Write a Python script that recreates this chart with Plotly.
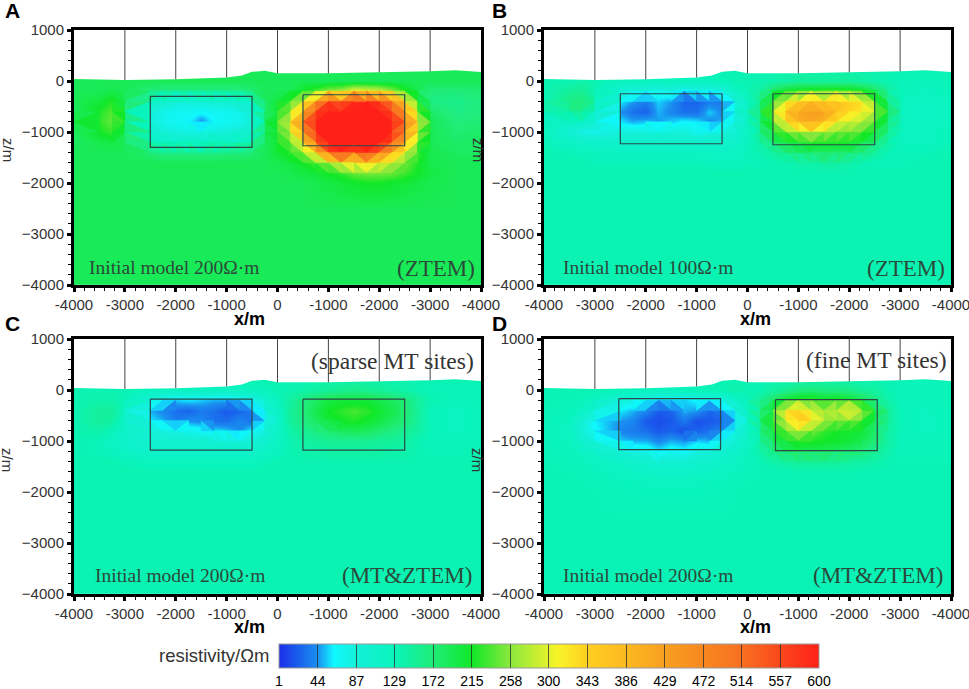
import plotly.graph_objects as go
from plotly.colors import sample_colorscale

W, H = 969, 689
FIG_W = 985  # a little wider than the window so the last tick label of B and D is kept

# grid nodes of the resistivity sections
x_nodes = [-4000, -3500, -3250, -3000, -2500, -2250, -2000, -1750, -1500, -1250, -1000, -750, -500, -250, 0, 250, 500,
           750, 1000, 1250, 1500, 1750, 2000, 2250, 2500, 2750, 3000, 3500, 4000]
z_nodes = [250, 0, -200, -400, -600, -800, -1000, -1200, -1400, -1600, -1800, -2000, -2500, -4000]

# resistivity, one row per z_nodes entry
rho_a = [
    [190] * 29,
    [190] * 29,
    [190, 190, 195, 190, 170, 165, 165, 165, 165, 165, 165, 165, 175, 190, 185, 190, 215, 235, 260, 270, 310, 300, 290, 260, 220, 195, 170, 170, 175],
    [190, 205, 225, 195, 110, 95, 85, 85, 85, 90, 90, 100, 115, 185, 205, 240, 290, 420, 560, 520, 590, 600, 560, 500, 350, 230, 165, 160, 170],
    [185, 220, 240, 200, 85, 75, 70, 70, 65, 70, 70, 75, 90, 180, 215, 265, 400, 560, 600, 600, 600, 600, 600, 560, 430, 270, 180, 165, 170],
    [185, 225, 245, 200, 85, 75, 70, 65, 40, 65, 70, 75, 90, 180, 225, 290, 470, 600, 600, 600, 600, 600, 600, 600, 500, 300, 190, 170, 175],
    [185, 215, 230, 195, 100, 85, 80, 80, 80, 85, 85, 90, 100, 180, 225, 280, 440, 600, 600, 600, 600, 600, 600, 600, 480, 290, 190, 175, 180],
    [185, 195, 200, 190, 130, 120, 115, 115, 115, 120, 120, 125, 135, 185, 215, 250, 330, 520, 600, 600, 600, 600, 600, 560, 400, 260, 190, 180, 185],
    [190, 190, 190, 190, 175, 165, 165, 165, 165, 165, 170, 170, 175, 190, 205, 225, 265, 350, 560, 600, 560, 600, 520, 400, 300, 230, 195, 185, 185],
    [190] * 14 + [195, 200, 215, 235, 270, 320, 330, 340, 320, 290, 250, 220, 195, 190, 190],
    [190] * 14 + [190, 195, 200, 205, 215, 225, 245, 250, 250, 245, 230, 215, 200, 190, 190],
    [190] * 14 + [190, 190, 190, 195, 200, 205, 210, 215, 215, 210, 205, 200, 195, 190, 190],
    [190] * 29,
    [190] * 29,
]
rho_b = [
    [135] * 29,
    [135, 135, 140, 135, 125, 125, 125, 125, 125, 125, 125, 125, 130, 135, 135, 135, 140, 145, 150, 150, 150, 150, 150, 145, 140, 135, 130, 130, 130],
    [135, 150, 155, 135, 95, 85, 80, 70, 80, 60, 75, 65, 85, 120, 135, 145, 185, 215, 225, 230, 235, 235, 230, 220, 190, 150, 130, 125, 130],
    [130, 165, 170, 145, 60, 45, 35, 55, 45, 25, 25, 35, 35, 75, 125, 160, 240, 300, 340, 360, 350, 370, 345, 330, 250, 180, 125, 120, 125],
    [125, 160, 165, 130, 45, 30, 25, 50, 40, 30, 30, 55, 40, 80, 125, 170, 260, 360, 420, 430, 430, 370, 340, 320, 270, 190, 125, 115, 125],
    [125, 115, 110, 90, 60, 50, 55, 45, 55, 65, 60, 40, 50, 80, 120, 165, 250, 340, 400, 420, 400, 310, 290, 280, 240, 180, 125, 120, 125],
    [125, 95, 80, 75, 85, 85, 85, 90, 85, 85, 70, 80, 85, 95, 120, 155, 220, 250, 270, 280, 270, 260, 250, 240, 210, 165, 125, 125, 130],
    [130, 115, 105, 105] + [105] * 10 + [125, 145, 180, 200, 215, 215, 215, 215, 215, 200, 175, 145, 125, 125, 130],
    [135, 130, 130, 125, 120, 120, 120, 120, 120, 120, 120, 118, 115, 120, 130, 135, 145, 160, 175, 180, 185, 180, 180, 165, 145, 130, 130, 130, 135],
    [135, 135, 135, 130, 130, 130, 130, 130, 130, 130, 130, 128, 125, 125, 130, 130, 135, 135, 140, 140, 145, 145, 140, 135, 130, 130, 130, 135, 135],
    [135] * 29,
    [135] * 29,
    [135] * 29,
    [135] * 29,
]
rho_c = [
    [135] * 29,
    [135, 135, 135, 135, 125, 122, 120, 120, 120, 120, 120, 122, 125, 130, 135, 135, 140, 145, 150, 155, 160, 155, 150, 145, 140, 135, 130, 130, 130],
    [135, 140, 140, 130, 85, 70, 55, 60, 55, 50, 50, 60, 70, 100, 130, 145, 165, 185, 200, 205, 205, 205, 195, 185, 170, 150, 135, 130, 130],
    [135, 150, 150, 125, 50, 40, 30, 25, 35, 30, 20, 25, 35, 75, 120, 150, 170, 195, 215, 225, 235, 225, 210, 195, 175, 150, 130, 125, 130],
    [135, 150, 145, 120, 60, 50, 35, 45, 40, 30, 30, 40, 30, 65, 115, 150, 165, 185, 205, 215, 220, 210, 200, 185, 170, 150, 130, 125, 130],
    [135, 140, 130, 110, 90, 85, 80, 75, 70, 60, 55, 40, 65, 85, 115, 140, 155, 165, 175, 185, 190, 185, 175, 165, 155, 145, 130, 125, 130],
    [135, 130, 120, 105, 95, 95, 95, 95, 95, 95, 90, 90, 90, 100, 120, 135, 145, 150, 155, 155, 155, 155, 150, 150, 145, 135, 130, 130, 130],
    [135, 130, 125, 115] + [105] * 9 + [115, 125, 135, 140, 140, 145, 145, 145, 145, 145, 140, 140, 135, 130, 130, 135],
    [135, 135, 135, 130] + [125] * 9 + [130] + [135] * 15,
    [135] * 29,
    [135] * 29,
    [135] * 29,
    [135] * 29,
    [135] * 29,
]
rho_d = [
    [132] * 29,
    [132, 132, 135, 135, 130, 128, 125, 125, 125, 128, 130, 132, 135, 140, 135, 135, 145, 155, 165, 170, 165, 165, 160, 150, 145, 135, 130, 130, 130],
    [132, 132, 130, 120, 85, 80, 70, 60, 65, 55, 65, 70, 80, 115, 130, 150, 185, 215, 230, 235, 220, 225, 215, 195, 165, 140, 130, 130, 130],
    [132, 130, 120, 100, 60, 50, 40, 20, 25, 50, 45, 25, 35, 75, 115, 165, 215, 320, 340, 300, 270, 300, 320, 290, 195, 150, 130, 125, 130],
    [130, 125, 90, 60, 45, 40, 20, 15, 20, 35, 15, 20, 25, 55, 110, 165, 225, 300, 360, 330, 270, 250, 250, 240, 190, 150, 130, 125, 130],
    [130, 120, 90, 65, 40, 35, 30, 20, 25, 15, 25, 30, 40, 75, 110, 155, 215, 250, 280, 250, 225, 215, 210, 205, 180, 145, 130, 125, 130],
    [130, 125, 105, 80, 55, 50, 50, 40, 50, 45, 55, 50, 70, 90, 115, 145, 190, 215, 225, 220, 215, 210, 205, 195, 170, 145, 130, 130, 130],
    [130, 128, 120, 110, 90, 80, 75, 60, 70, 65, 80, 85, 95, 110, 125, 140, 165, 180, 190, 190, 190, 185, 180, 170, 155, 140, 130, 130, 130],
    [132, 130, 128, 122, 110, 105, 100, 95, 95, 95, 100, 105, 110, 120, 128, 132, 140, 145, 150, 150, 150, 150, 145, 145, 140, 135, 132, 132, 132],
    [132, 132, 130, 128, 120, 115, 112, 110, 110, 110, 112, 115, 120, 125, 130, 132, 132, 132, 135, 135, 135, 135, 135, 132, 132, 132, 132, 132, 132],
    [132, 132, 132, 130, 128, 126, 125, 122, 122, 122, 125, 126, 128, 130] + [132] * 15,
    [132, 132, 132, 132, 130, 129, 128, 128, 128, 128, 128, 129, 130, 132] + [132] * 15,
    [132] * 29,
    [132] * 29,
]

# ground surface and the MT site lines
surface_x = [-4000, -3000, -2000, -1000, -700, -500, -250, 0, 1000, 2000, 3000, 3500, 4000]
surface_z = [40, 20, 35, 70, 110, 180, 200, 150, 150, 170, 190, 210, 175]
site_x = [-3000, -2000, -1000, 0, 1000, 2000, 3000]
site_z = [20, 35, 70, 150, 150, 170, 190]

# target boxes per panel: x0, x1, z_top, z_bottom
boxes_a = [[-2500, -500, -300, -1300], [500, 2500, -270, -1270]]
boxes_b = [[-2500, -500, -250, -1230], [500, 2500, -250, -1250]]
boxes_c = [[-2500, -500, -180, -1180], [500, 2500, -180, -1180]]
boxes_d = [[-2530, -530, -170, -1170], [550, 2550, -190, -1190]]

x_ticks = [-4000, -3000, -2000, -1000, 0, 1000, 2000, 3000, 4000]
x_labels = ['-4000', '-3000', '-2000', '-1000', '0', '-1000', '-2000', '-3000', '-4000']
z_ticks = [1000, 0, -1000, -2000, -3000, -4000]

cbar_ticks = [1, 44, 87, 129, 172, 215, 258, 300, 343, 386, 429, 472, 514, 557, 600]
scale_vals = [1, 44, 62, 87, 129, 172, 215, 258, 310, 343, 429, 514, 600]
scale_cols = ['#1a2ee8', '#1a90f0', '#10f8ff', '#14f0d8', '#08f4bc', '#20ec78', '#10e828', '#8ce83c',
              '#f8f428', '#ffd020', '#f8a020', '#f87020', '#ff2018']
colorscale = [[(v - 1) / 599, c] for v, c in zip(scale_vals, scale_cols)]

DARK = '#333333'
SERIF = 'Liberation Serif'
SANS = 'Liberation Sans'


def px_x(p):
    return p / FIG_W


def px_y(p):
    return 1 - p / H


def facet_traces(rho, xref, yref):
    # split the cells with a strong contrast into flat triangles, like the inversion mesh
    groups = {}
    for j in range(2, 10):
        for i in range(len(x_nodes) - 1):
            a, b = rho[j][i], rho[j][i + 1]
            c, d = rho[j + 1][i + 1], rho[j + 1][i]
            if max(a, b, c, d) - min(a, b, c, d) < 40:
                continue
            p = [(x_nodes[i], z_nodes[j]), (x_nodes[i + 1], z_nodes[j]),
                 (x_nodes[i + 1], z_nodes[j + 1]), (x_nodes[i], z_nodes[j + 1])]
            # cut along the diagonal with the smaller jump, the outline gets rounder that way
            if abs(a - c) <= abs(b - d):
                tris = [((a, b, c), (p[0], p[1], p[2])), ((a, c, d), (p[0], p[2], p[3]))]
            else:
                tris = [((a, b, d), (p[0], p[1], p[3])), ((b, c, d), (p[1], p[2], p[3]))]
            for vals, pts in tris:
                level = round(sum(vals) / 3 / 5) * 5
                xs, zs = groups.setdefault(level, ([], []))
                for q in pts + (pts[0],):
                    xs.append(q[0])
                    zs.append(q[1])
                xs.append(None)
                zs.append(None)
    traces = []
    for level, (xs, zs) in groups.items():
        col = sample_colorscale(colorscale, [min(max((level - 1) / 599, 0), 1)])[0]
        traces.append(go.Scatter(x=xs, y=zs, mode='lines', fill='toself', fillcolor=col,
                                 line=dict(color=col, width=0.5), xaxis=xref, yaxis=yref,
                                 showlegend=False, hoverinfo='skip'))
    return traces


panels = [
    ('A', rho_a, boxes_a, 74, 30),
    ('B', rho_b, boxes_b, 544, 30),
    ('C', rho_c, boxes_c, 74, 339),
    ('D', rho_d, boxes_d, 544, 339),
]
PW, PH = 407, 255

fig = go.Figure()
layout_axes = {}
for i, (name, rho, boxes, left, top) in enumerate(panels):
    n = '' if i == 0 else str(i + 1)
    xref, yref = 'x' + n, 'y' + n
    fig.add_trace(go.Heatmap(x=x_nodes, y=z_nodes[::-1], z=rho[::-1], coloraxis='coloraxis',
                             zsmooth='best', xaxis=xref, yaxis=yref, hoverinfo='skip'))
    fig.add_traces(facet_traces(rho, xref, yref))
    # air above the surface
    fig.add_trace(go.Scatter(x=surface_x + [4000, -4000], y=surface_z + [1000, 1000], fill='toself',
                             fillcolor='white', mode='none', xaxis=xref, yaxis=yref, showlegend=False))
    lx, lz = [], []
    for sx, sz in zip(site_x, site_z):
        lx += [sx, sx, None]
        lz += [1000, sz, None]
    fig.add_trace(go.Scatter(x=lx, y=lz, mode='lines', line=dict(color='#444444', width=1),
                             xaxis=xref, yaxis=yref, showlegend=False))
    for x0, x1, z0, z1 in boxes:
        fig.add_trace(go.Scatter(x=[x0, x1, x1, x0, x0], y=[z0, z0, z1, z1, z0], mode='lines',
                                 line=dict(color='#2a4a4a', width=1.2), xaxis=xref, yaxis=yref,
                                 showlegend=False))
    layout_axes['xaxis' + n] = dict(
        domain=[px_x(left), px_x(left + PW)], range=[-4000, 4000], anchor=yref,
        tickvals=x_ticks, ticktext=x_labels, tickangle=0, ticks='outside', ticklen=4, tickwidth=3,
        tickcolor='black', tickfont=dict(family=SANS, size=15, color=DARK), showgrid=False, zeroline=False,
        showline=True, mirror=True, linecolor='black', linewidth=3,
        minor=dict(ticks='outside', ticklen=3, tickwidth=1, tickcolor='black', dtick=200, showgrid=False),
    )
    layout_axes['yaxis' + n] = dict(
        domain=[px_y(top + PH), px_y(top)], range=[-4000, 1000], anchor=xref,
        tickvals=z_ticks, ticks='outside', ticklen=4, tickwidth=3,
        tickcolor='black', tickfont=dict(family=SANS, size=15, color=DARK), showgrid=False, zeroline=False,
        showline=True, mirror=True, linecolor='black', linewidth=3,
        minor=dict(ticks='outside', ticklen=3, tickwidth=1, tickcolor='black', dtick=200, showgrid=False),
    )

annotations = []


def add_text(text, x, y, size, family=SANS, color='black', bold=False, angle=0):
    if bold:
        text = '<b>' + text + '</b>'
    annotations.append(dict(text=text, x=px_x(x), y=px_y(y), xref='paper', yref='paper', showarrow=False,
                            xanchor='center', yanchor='middle', textangle=angle,
                            font=dict(family=family, size=size, color=color)))


for name, x, y in [('A', 12, 11), ('B', 499, 11), ('C', 12, 323), ('D', 499, 323)]:
    add_text(name, x, y, 21, bold=True)
for x, y in [(250, 319), (755, 319), (250, 627), (755, 627)]:
    add_text('x/m', x, y, 18, bold=True)
for x, y in [(8, 150), (478, 150), (8, 460), (478, 460)]:
    add_text('z/m', x, y, 15, color=DARK, angle=90)

for text, x, y in [('Initial model 200Ω·m', 174, 267), ('Initial model 100Ω·m', 648, 267),
                   ('Initial model 200Ω·m', 180, 575), ('Initial model 200Ω·m', 648, 575)]:
    add_text(text, x, y, 19.5, family=SERIF, color='#2a4a3a')
for text, x, y in [('(ZTEM)', 436, 268), ('(ZTEM)', 906, 268), ('(MT&amp;ZTEM)', 407, 575), ('(MT&amp;ZTEM)', 878, 575)]:
    add_text(text, x, y, 23, family=SERIF, color='#2a4a3a')
add_text('(sparse MT sites)', 392, 361, 23.5, family=SERIF, color=DARK)
add_text('(fine MT sites)', 876, 360, 23.5, family=SERIF, color=DARK)
add_text('resistivity/Ωm', 214, 655, 18.5, color=DARK)

fig.update_layout(
    width=FIG_W, height=H, margin=dict(l=0, r=0, t=0, b=0, autoexpand=False), paper_bgcolor='white', plot_bgcolor='white',
    showlegend=False, annotations=annotations,
    coloraxis=dict(
        cmin=1, cmax=600, colorscale=colorscale,
        colorbar=dict(orientation='h', lenmode='pixels', len=540, thicknessmode='pixels', thickness=24,
                      x=px_x(279), xanchor='left', y=px_y(644), yanchor='top', xpad=0, ypad=0,
                      tickvals=cbar_ticks, ticks='inside', ticklen=24, tickwidth=1, tickcolor='rgba(40,40,40,0.75)',
                      tickfont=dict(family=SANS, size=14, color='black'), outlinecolor='#999999', outlinewidth=1),
    ),
    **layout_axes,
)

# body margin off so the figure fills the window from the corner
fig.write_html("out.html", config=dict(displayModeBar=False),
               post_script="document.body.style.margin = '0px'; document.body.style.overflow = 'hidden';")
